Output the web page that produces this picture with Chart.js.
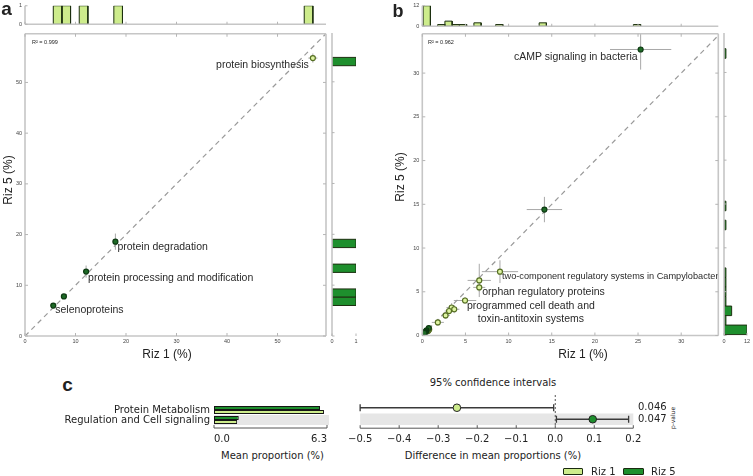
<!DOCTYPE html>
<html lang="en">
<head>
<meta charset="UTF-8">
<title>Riz 1 vs Riz 5</title>
<script src="https://cdn.jsdelivr.net/npm/chart.js"></script>
<style>
  html, body { margin: 0; padding: 0; background: #fff; }
  #fig { position: relative; width: 753px; height: 476px; overflow: hidden; font-family: "Liberation Sans", Arial, sans-serif; color: #222; }
  #fig canvas { position: absolute; }
  .t { position: absolute; white-space: nowrap; line-height: 1; transform: translate(-50%, -50%); }
  .l { position: absolute; white-space: nowrap; line-height: 1; transform: translateY(-50%); }
  .dv { font-family: "DejaVu Sans", sans-serif; font-size: 10px; color: #222; }
  .sw { position: absolute; box-sizing: border-box; border: 1.3px solid #1a2a10; border-radius: 1px; }
</style>
</head>
<body>
<div id="fig">
  <canvas id="aTop" width="332" height="30" style="left:0;top:0"></canvas>
  <canvas id="aMain" width="332" height="320" style="left:0;top:28px"></canvas>
  <canvas id="aSide" width="40" height="320" style="left:326px;top:28px"></canvas>
  <canvas id="bTop" width="327" height="32" style="left:397px;top:0"></canvas>
  <canvas id="bMain" width="327" height="320" style="left:397px;top:28px"></canvas>
  <canvas id="bSide" width="35" height="320" style="left:718px;top:28px"></canvas>
  <canvas id="cBars" width="335" height="50" style="left:0;top:395px"></canvas>
  <canvas id="cDiff" width="310" height="55" style="left:340px;top:390px"></canvas>

  <div class="t" style="left:6.5px;top:7.5px;font-size:19px;font-weight:bold">a</div>
  <div class="t" style="left:398px;top:11px;font-size:18px;font-weight:bold">b</div>
  <div class="t" style="left:67.5px;top:383.5px;font-size:19px;font-weight:bold">c</div>

  <div class="t" style="left:8px;top:180px;font-size:12px;transform:translate(-50%,-50%) rotate(-90deg)">Riz 5 (%)</div>
  <div class="t" style="left:167px;top:354px;font-size:12px">Riz 1 (%)</div>
  <div class="t" style="left:400px;top:177px;font-size:12px;transform:translate(-50%,-50%) rotate(-90deg)">Riz 5 (%)</div>
  <div class="t" style="left:583px;top:354px;font-size:12px">Riz 1 (%)</div>
  <div class="l" style="left:32px;top:43px;font-size:5.5px">R² = 0.999</div>
  <div class="l" style="left:428px;top:43px;font-size:5.5px">R² = 0.962</div>

  <div class="t dv" style="left:493px;top:383px">95% confidence intervals</div>
  <div class="t dv" style="left:272.5px;top:456px">Mean proportion (%)</div>
  <div class="t dv" style="left:493px;top:456px">Difference in mean proportions (%)</div>
  <div class="t dv" style="left:673px;top:418px;font-size:6px;transform:translate(-50%,-50%) rotate(-90deg)">p-value</div>
  <div id="pvals"></div>

  <div class="sw" style="left:563px;top:468px;width:20px;height:7px;background:#cdec8c"></div>
  <div class="l dv" style="left:591px;top:471.5px">Riz 1</div>
  <div class="sw" style="left:623px;top:468px;width:21px;height:7px;background:#1e8f2d"></div>
  <div class="l dv" style="left:651px;top:471.5px">Riz 5</div>
</div>

<script>
  // ---- a: protein metabolism subsystems
  const aNames = ['protein biosynthesis', 'protein degradation', 'protein processing and modification', '', 'selenoproteins'];
  const aRiz1 = [57.0, 17.9, 12.1, 7.7, 5.6];
  const aRiz5 = [54.8, 18.6, 12.7, 7.8, 6.0];
  const aRiz1Err = [0.9, 0.5, 0.4, 0.3, 0.3];
  const aRiz5Err = [0.9, 1.6, 1.2, 0.4, 0.4];
  const aMax = 59.6;
  const aTopBins = [5.6, 7.31, 10.74, 17.59, 55.29];
  const aTopCounts = [1, 1, 1, 1, 1];
  const aTopWidth = 1.71;
  const aSideBins = [6.0, 7.63, 12.51, 17.39, 53.17];
  const aSideCounts = [1, 1, 1, 1, 1];
  const aSideWidth = 1.63;

  // ---- b: regulation and cell signaling subsystems
  const bNames = ['cAMP signaling in bacteria', '', 'two-component regulatory systems in Campylobacter', '',
    'orphan regulatory proteins', 'programmed cell death and\ntoxin-antitoxin systems',
    '', '', '', '', '', '', '', '', '', '', '', '', '', '', '', '', ''];
  const bRiz1 = [25.3, 14.15, 9.0, 6.6, 6.6, 4.95, 3.4, 3.7, 3.1, 2.7, 1.8, 0.8, 0.7, 0.75, 0.6, 0.5, 0.45, 0.35, 0.3, 0.2, 0.15, 0.1, 0.25];
  const bRiz5 = [32.7, 14.4, 7.3, 6.3, 5.5, 4.0, 3.2, 3.0, 2.8, 2.3, 1.5, 0.7, 0.55, 0.85, 0.5, 0.6, 0.5, 0.4, 0.35, 0.25, 0.2, 0.15, 0.3];
  const bRiz1Err = [3.55, 2.05, 2.1, 1.35, 0.7, 1.3, 0.6, 0.6, 0.5, 0.5, 0.7, 0.3, 0.25, 0.2, 0.2, 0.15, 0.15, 0.1, 0.1, 0.1, 0.1, 0.1, 0.1];
  const bRiz5Err = [2.3, 1.45, 1.3, 1.9, 0.5, 0.4, 0.5, 0.45, 0.4, 0.4, 0.4, 0.25, 0.2, 0.2, 0.2, 0.15, 0.15, 0.1, 0.1, 0.1, 0.1, 0.1, 0.1];
  const bXMax = 34.3;
  const bYMax = 34.5;
  const bTopBins = [0.1, 1.78, 2.62, 3.46, 4.3, 5.98, 8.5, 13.54, 24.46];
  const bTopCounts = [12, 1, 3, 1, 1, 2, 1, 2, 1];
  const bTopWidth = 0.84;
  const bSideBins = [0.1, 1.19, 2.27, 3.36, 4.45, 5.53, 6.62, 12.06, 14.23, 31.62];
  const bSideCounts = [12, 1, 4, 1, 1, 1, 1, 1, 1, 1];
  const bSideWidth = 1.087;

  // ---- c: level-1 categories
  const cCategories = ['Protein Metabolism', 'Regulation and Cell signaling'];
  const cRiz1Mean = [6.13, 1.29];
  const cRiz5Mean = [5.91, 1.38];
  const cMeanTicks = [0, 6.3];
  const cDiff = [-0.252, 0.096];
  const cDiffLow = [-0.5, 0.003];
  const cDiffHigh = [-0.004, 0.188];
  const cPValues = ['0.046', '0.047'];

  const LIGHT = '#cdec8c', DARK = '#1e8f2d';
  const SANS = '"Liberation Sans", Arial, sans-serif';
  const DV = '"DejaVu Sans", sans-serif';

  Chart.defaults.font.family = SANS;
  Chart.defaults.color = '#333';
  Chart.defaults.animation = false;
  Chart.defaults.responsive = false;
  Chart.defaults.events = [];
  Chart.defaults.plugins.legend.display = false;
  Chart.defaults.plugins.tooltip.enabled = false;

  function fixWidth(w) { return s => { s.width = w; }; }
  function fixHeight(h) { return s => { s.height = h; }; }

  const tickFont = { size: 5.5, lineHeight: 1 };
  function axis(min, max, step, fit, isX, showLabels) {
    return {
      type: 'linear', min: min, max: max,
      afterFit: isX ? fixHeight(fit) : fixWidth(fit),
      grid: { display: false, drawTicks: false },
      border: { display: false },
      ticks: { display: showLabels, stepSize: step, includeBounds: false, font: tickFont, color: '#444', padding: 3, maxRotation: 0, autoSkip: false }
    };
  }

  // one closed polygon per histogram bin
  function histSets(starts, counts, width, horizontal, fill) {
    return starts.map((s, i) => {
      const e = s + width, c = counts[i];
      const pts = horizontal
        ? [{x: 0, y: s}, {x: c, y: s}, {x: c, y: e}, {x: 0, y: e}, {x: 0, y: s}]
        : [{x: s, y: 0}, {x: s, y: c}, {x: e, y: c}, {x: e, y: 0}, {x: s, y: 0}];
      return { type: 'line', data: pts, fill: 'shape', backgroundColor: fill, borderColor: '#1d3010',
               borderWidth: 1, pointRadius: 0, tension: 0 };
    });
  }

  // frame lines + inward ticks, matplotlib style
  function makeSpines(cfg) {
    return {
      id: 'spines',
      afterDatasetsDraw(chart) {
        const {ctx, chartArea: a, scales: {x, y}} = chart;
        const edge = {left: a.left, right: a.right, top: a.top, bottom: a.bottom + (cfg.offset || 0)};
        ctx.save();
        ctx.strokeStyle = cfg.color;
        ctx.lineWidth = cfg.width;
        (cfg.sides || []).forEach(s => {
          ctx.beginPath();
          if (s === 'left' || s === 'right') { ctx.moveTo(edge[s], a.top); ctx.lineTo(edge[s], edge.bottom); }
          else { ctx.moveTo(a.left, edge[s]); ctx.lineTo(a.right + (cfg.extend || 0), edge[s]); }
          ctx.stroke();
        });
        ctx.strokeStyle = cfg.tickColor || cfg.color;
        ctx.lineWidth = 1;
        (cfg.tickSides || []).forEach(s => {
          const horiz = s === 'top' || s === 'bottom';
          const sc = horiz ? x : y;
          const dir = (s === 'bottom' || s === 'right') ? -1 : 1;
          sc.ticks.forEach(t => {
            const p = sc.getPixelForValue(t.value);
            ctx.beginPath();
            if (horiz) { ctx.moveTo(p, edge[s]); ctx.lineTo(p, edge[s] + dir * cfg.tick); }
            else { ctx.moveTo(edge[s], p); ctx.lineTo(edge[s] + dir * cfg.tick, p); }
            ctx.stroke();
          });
        });
        ctx.restore();
      }
    };
  }

  function makeErrorBars(xs, ys, xErr, yErr) {
    return {
      id: 'errorBars',
      beforeDatasetsDraw(chart) {
        const {ctx, chartArea: a, scales: {x, y}} = chart;
        ctx.save();
        ctx.beginPath(); ctx.rect(a.left, a.top, a.width, a.height); ctx.clip();
        ctx.strokeStyle = '#a8a8a8';
        ctx.lineWidth = 1;
        xs.forEach((xv, i) => {
          const yv = ys[i];
          const px = x.getPixelForValue(xv), py = y.getPixelForValue(yv);
          ctx.beginPath();
          ctx.moveTo(x.getPixelForValue(xv - xErr[i]), py); ctx.lineTo(x.getPixelForValue(xv + xErr[i]), py);
          ctx.moveTo(px, y.getPixelForValue(yv - yErr[i])); ctx.lineTo(px, y.getPixelForValue(yv + yErr[i]));
          ctx.stroke();
        });
        ctx.restore();
      }
    };
  }

  function makeLabels(names, xs, ys, place) {
    return {
      id: 'pointLabels',
      afterDatasetsDraw(chart) {
        const {ctx, scales: {x, y}} = chart;
        ctx.save();
        ctx.fillStyle = '#2a2a2a';
        ctx.textAlign = 'center';
        ctx.textBaseline = 'middle';
        names.forEach((name, i) => {
          const p = place[i];
          if (!name || !p) return;
          const size = p.size || 10.5;
          ctx.font = size + 'px ' + SANS;
          const lines = name.split('\n');
          const w = Math.max(...lines.map(l => ctx.measureText(l).width));
          const px = x.getPixelForValue(xs[i]), py = y.getPixelForValue(ys[i]);
          const left = p.align === 'right' ? px + p.dx - w : px + p.dx;
          lines.forEach((l, k) => ctx.fillText(l, left + w / 2, py + p.dy + k * 13));
        });
        ctx.restore();
      }
    };
  }

  function scatterPanel(id, riz1, riz5, e1, e5, xMax, yMax, step, yFit, xFit, pad, names, place) {
    const pts = riz1.map((v, i) => ({x: v, y: riz5[i]}));
    const lim = Math.min(xMax, yMax);
    new Chart(document.getElementById(id), {
      type: 'scatter',
      data: { datasets: [
        { type: 'line', data: [{x: 0, y: 0}, {x: lim, y: lim}], borderColor: '#9a9a9a', borderDash: [5, 4],
          borderWidth: 1.2, pointRadius: 0, fill: false, order: 2 },
        { data: pts, order: 1, pointRadius: 2.5,
          pointBackgroundColor: pts.map(p => p.y > p.x ? '#1d6a25' : '#def4a2'),
          pointBorderColor: pts.map(p => p.y > p.x ? '#0d3a12' : '#566f24'),
          pointBorderWidth: 1.2 }
      ]},
      options: {
        layout: { padding: pad },
        scales: { x: axis(0, xMax, step, xFit, true, true), y: axis(0, yMax, step, yFit, false, true) }
      },
      plugins: [makeErrorBars(riz1, riz5, e1, e5), makeLabels(names, riz1, riz5, place),
                makeSpines({sides: ['left', 'right', 'top', 'bottom'], tickSides: ['left', 'right', 'top', 'bottom'],
                            color: '#c6c6c6', tickColor: '#b5b5b5', width: 1.6, tick: 3})]
    });
  }

  function histPanel(id, starts, counts, width, horizontal, fill, xAxis, yAxis, pad) {
    new Chart(document.getElementById(id), {
      type: 'scatter',
      data: { datasets: histSets(starts, counts, width, horizontal, fill) },
      options: { layout: { padding: pad }, scales: { x: xAxis, y: yAxis } },
      plugins: [makeSpines(horizontal
        ? {sides: ['left'], tickSides: ['left', 'bottom'], color: '#c6c6c6', tickColor: '#b5b5b5', width: 1.6, tick: 2.5}
        : {sides: ['left', 'bottom'], tickSides: ['left', 'bottom'], color: '#c6c6c6', tickColor: '#b5b5b5', width: 1.6, tick: 2.5})]
    });
  }

  // panel a
  const aPlace = [{dx: -4, dy: 7, align: 'right'}, {dx: 2, dy: 5.2}, {dx: 2, dy: 7}, null, {dx: 2, dy: 5}];
  histPanel('aTop', aTopBins, aTopCounts, aTopWidth, false, LIGHT,
    axis(0, aMax, 10, 3, true, false), axis(0, 1, 1, 25, false, true), {top: 4, right: 6, left: 0, bottom: 0});
  scatterPanel('aMain', aRiz1, aRiz5, aRiz1Err, aRiz5Err, aMax, aMax, 10, 25, 12,
    {top: 5, right: 6, left: 0, bottom: 0}, aNames, aPlace);
  histPanel('aSide', aSideBins, aSideCounts, aSideWidth, true, DARK,
    axis(0, 1, 1, 12, true, true), axis(0, aMax, 10, 6, false, false), {top: 5, right: 10, left: 0, bottom: 0});

  // panel b
  const bPlace = [{dx: -3, dy: 8, align: 'right'}, null, {dx: 2, dy: 5.3, size: 9.2}, null, {dx: 3, dy: 5}, {dx: 2, dy: 6}];
  histPanel('bTop', bTopBins, bTopCounts, bTopWidth, false, LIGHT,
    axis(0, bXMax, 5, 2.7, true, false), axis(0, 12, 12, 25.3, false, true), {top: 4.3, right: 5.7, left: 0, bottom: 0});
  scatterPanel('bMain', bRiz1, bRiz5, bRiz1Err, bRiz5Err, bXMax, bYMax, 5, 25.3, 12.5,
    {top: 5, right: 5.7, left: 0, bottom: 0}, bNames, bPlace);
  histPanel('bSide', bSideBins, bSideCounts, bSideWidth, true, DARK,
    axis(0, 12, 12, 12.5, true, true), axis(0, bYMax, 5, 6, false, false), {top: 5, right: 3.7, left: 0, bottom: 0});

  // panel c
  const rowBands = {
    id: 'rowBands',
    beforeDatasetsDraw(chart, args, o) {
      const {ctx, chartArea: a, scales: {x, y}} = chart;
      ctx.save();
      ctx.fillStyle = '#e6e6e6';
      for (let i = 1; i < cCategories.length; i += 2) {
        const t = y.getPixelForValue(i - 0.5), b = y.getPixelForValue(i + 0.5);
        ctx.fillRect(a.left, Math.min(t, b), a.right - a.left + (o.extend || 0), Math.abs(b - t));
      }
      ctx.restore();
    }
  };

  const ciBars = {
    id: 'ciBars',
    beforeDatasetsDraw(chart) {
      const {ctx, chartArea: a, scales: {x, y}} = chart;
      ctx.save();
      ctx.strokeStyle = '#555';
      ctx.setLineDash([2, 2]);
      ctx.beginPath();
      ctx.moveTo(x.getPixelForValue(0), a.top); ctx.lineTo(x.getPixelForValue(0), a.bottom);
      ctx.stroke();
      ctx.setLineDash([]);
      ctx.strokeStyle = '#3a3a3a';
      ctx.lineWidth = 1.3;
      cDiff.forEach((d, i) => {
        const py = y.getPixelForValue(i);
        const lo = x.getPixelForValue(cDiffLow[i]), hi = x.getPixelForValue(cDiffHigh[i]);
        ctx.beginPath();
        ctx.moveTo(lo, py); ctx.lineTo(hi, py);
        ctx.moveTo(lo, py - 3.5); ctx.lineTo(lo, py + 3.5);
        ctx.moveTo(hi, py - 3.5); ctx.lineTo(hi, py + 3.5);
        ctx.stroke();
      });
      ctx.restore();
    }
  };

  const dvFont = { family: DV, size: 10 };
  const minus = v => { const r = Math.abs(v) < 1e-9 ? 0 : v; return r.toFixed(1).replace('-', '\u2212'); };

  new Chart(document.getElementById('cBars'), {
    type: 'bar',
    data: { labels: cCategories, datasets: [
      { label: 'Riz 5', data: cRiz5Mean, backgroundColor: DARK, borderColor: '#151515', borderWidth: 1, borderSkipped: false },
      { label: 'Riz 1', data: cRiz1Mean, backgroundColor: LIGHT, borderColor: '#151515', borderWidth: 1, borderSkipped: false }
    ]},
    options: {
      indexAxis: 'y',
      layout: { padding: {top: 5.5, right: 7, left: 0, bottom: 0} },
      datasets: { bar: { categoryPercentage: 0.78, barPercentage: 1 } },
      scales: {
        y: { afterFit: fixWidth(214), grid: {display: false, drawTicks: false}, border: {display: false},
             ticks: { font: dvFont, color: '#222', padding: 4, autoSkip: false } },
        x: { min: 0, max: 6.3, afterFit: fixHeight(20),
             afterBuildTicks: s => { s.ticks = cMeanTicks.map(v => ({value: v})); },
             grid: {display: false, drawTicks: false}, border: {display: false},
             ticks: { align: 'inner', font: dvFont, color: '#222', padding: 8, callback: v => minus(v) } }
      },
      plugins: { rowBands: { extend: 2 } }
    },
    plugins: [rowBands, makeSpines({sides: ['bottom'], tickSides: ['bottom'], color: '#555', width: 1, tick: 3, offset: 3})]
  });

  new Chart(document.getElementById('cDiff'), {
    type: 'scatter',
    data: { datasets: [{
      data: cDiff.map((d, i) => ({x: d, y: i})),
      pointRadius: 3.8,
      pointBackgroundColor: cDiff.map(d => d < 0 ? LIGHT : DARK),
      pointBorderColor: '#222', pointBorderWidth: 1
    }]},
    options: {
      layout: { padding: {left: 13.3, right: 16.7, top: 3, bottom: 0} },
      scales: {
        x: { type: 'linear', min: -0.5, max: 0.2, afterFit: fixHeight(19.8),
             grid: {display: false, drawTicks: false}, border: {display: false},
             ticks: { stepSize: 0.1, font: dvFont, color: '#222', padding: 8, maxRotation: 0, callback: v => minus(v) } },
        y: { type: 'linear', display: false, reverse: true, min: -1.11, max: 1.52 }
      },
      plugins: { rowBands: { extend: 0 } }
    },
    plugins: [rowBands, ciBars, makeSpines({sides: ['bottom'], tickSides: ['bottom'], color: '#555', width: 1, tick: 3, offset: 3})]
  });

  // p-values next to the confidence intervals
  const pBox = document.getElementById('pvals');
  cPValues.forEach((p, i) => {
    const d = document.createElement('div');
    d.className = 'l dv';
    d.style.left = '638px';
    d.style.top = (406.7 + i * 12.3) + 'px';
    d.textContent = p;
    pBox.appendChild(d);
  });
</script>
</body>
</html>
